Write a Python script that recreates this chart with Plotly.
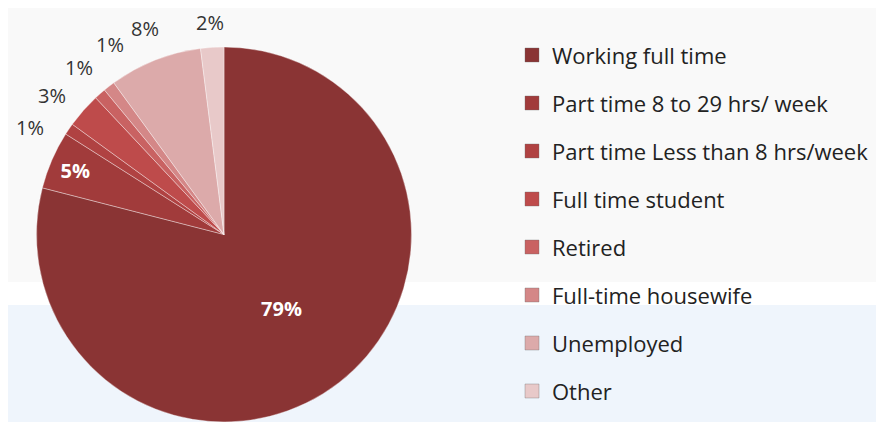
import math
import plotly.graph_objects as go

labels = ["Working full time", "Part time 8 to 29 hrs/ week", "Part time Less than 8 hrs/week",
          "Full time student", "Retired", "Full-time housewife", "Unemployed", "Other"]
values = [79, 5, 1, 3, 1, 1, 8, 2]
colors = ["#8a3434", "#a13b3b", "#b04242", "#be4b4b", "#c96262", "#d48787", "#dcaaaa", "#e8c9c9"]
label_inside = [True, True, False, False, False, False, False, False]

FONT = "Open Sans"
W, H = 876, 414          # page body has an 8px margin inside the 884x422 window
CX, CY, R = 216, 226.5, 187.5   # pie centre / radius in figure pixels
LABEL_R = 1.18 * R
MIN_SEP = 10.0           # minimum angular separation of outside labels (deg)
LABEL_FONT = 20

total = sum(values)
pct_text = ["%d%%" % round(100 * v / total) for v in values]

fig = go.Figure()
fig.add_trace(go.Pie(
    labels=labels, values=values, sort=False, direction="clockwise", rotation=0,
    marker=dict(colors=colors, line=dict(color="rgba(255,255,255,0.6)", width=0.6)),
    text=pct_text, texttemplate="%{text}",
    textposition=["inside" if ins else "none" for ins in label_inside],
    insidetextorientation="horizontal",
    insidetextfont=dict(family=FONT, size=20, color="#ffffff", weight="bold"),
    domain=dict(x=[(CX - R) / W, (CX + R) / W], y=[(H - CY - R) / H, (H - CY + R) / H]),
    showlegend=False, hoverinfo="label+percent",
))

# outside percentage labels, placed around the slice mid-angles (spread to avoid overlap)
mids = []
cum = 0
for v in values:
    mids.append(360.0 * (cum + v / 2) / total)
    cum += v
out_idx = [i for i, ins in enumerate(label_inside) if not ins]
ang = {i: mids[i] for i in out_idx}
order = sorted(out_idx, key=lambda i: ang[i])
for _ in range(500):
    for a, b in zip(order[:-1], order[1:]):
        d = ang[b] - ang[a]
        if d < MIN_SEP:
            s = (MIN_SEP - d) / 2
            ang[a] -= s
            ang[b] += s
annotations = []
for i in out_idx:
    t = math.radians(ang[i])
    x = CX + LABEL_R * math.sin(t)
    y = max(CY - LABEL_R * math.cos(t), 0.7 * LABEL_FONT)  # keep text inside the page
    annotations.append(dict(x=x / W, y=1 - y / H, xref="paper", yref="paper",
                            text=pct_text[i], showarrow=False, xanchor="center", yanchor="middle",
                            font=dict(family=FONT, size=LABEL_FONT, color="#333333")))

for lab, col in zip(labels, colors):
    fig.add_trace(go.Scatter(
        x=[None], y=[None], mode="markers", name=lab, legendgroup=lab,
        marker=dict(symbol="square", size=14, color=col,
                    line=dict(color="rgba(110,110,110,0.45)", width=0.8)),
        showlegend=True,
    ))

fig.update_layout(
    width=W, height=H,
    margin=dict(l=0, r=0, t=0, b=0, autoexpand=False),
    paper_bgcolor="#f9f9f9", plot_bgcolor="rgba(0,0,0,0)",
    xaxis=dict(visible=False), yaxis=dict(visible=False),
    legend=dict(x=504 / W, xanchor="left", y=1 - 26.2 / H, yanchor="top",
                font=dict(family=FONT, size=22, color="#222222"),
                tracegroupgap=16.4, bgcolor="rgba(0,0,0,0)",
                itemsizing="trace"),
    annotations=annotations,
    shapes=[
        dict(type="rect", xref="paper", yref="paper", x0=0, x1=1, y0=1 - 297 / H, y1=1 - 274 / H,
             fillcolor="#ffffff", line=dict(width=0), layer="below"),
        dict(type="rect", xref="paper", yref="paper", x0=0, x1=1, y0=0, y1=1 - 297 / H,
             fillcolor="#eff5fc", line=dict(width=0), layer="below"),
    ],
)

fig.write_html("out.html")
